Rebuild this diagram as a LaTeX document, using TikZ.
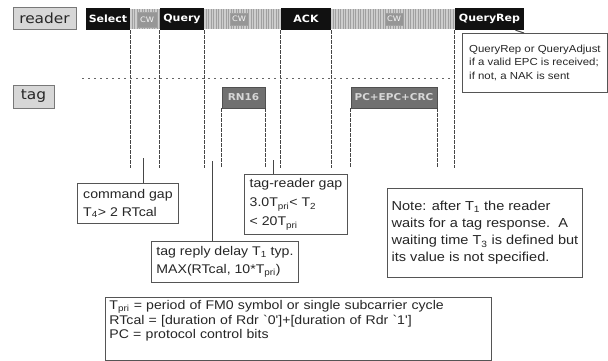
\documentclass[tikz,border=0pt]{standalone}
\usepackage{fontspec}
\setmainfont{Liberation Sans}
\newfontfamily\barfont[FakeStretch=1.1]{DejaVu Sans}
\newfontfamily\txtfont[FakeStretch=1.12]{Liberation Sans}
\definecolor{barblack}{RGB}{17,17,17}
\definecolor{tagfill}{RGB}{112,112,112}
\definecolor{tagdraw}{RGB}{80,80,80}
\definecolor{tagtext}{RGB}{215,215,215}
\definecolor{hatchbg}{RGB}{205,205,205}
\definecolor{hatchln}{RGB}{160,160,160}
\definecolor{lblfill}{RGB}{215,215,215}
\definecolor{lbldraw}{RGB}{120,120,120}
\definecolor{linec}{RGB}{70,70,70}
\definecolor{boxdraw}{RGB}{85,85,85}
\definecolor{cwfill}{RGB}{150,150,150}
\tikzset{
  rbar/.style={fill=barblack, text=white, font=\barfont\bfseries\fontsize{10}{12}\selectfont, minimum height=22pt, inner sep=0pt},
  lbl/.style={fill=lblfill, draw=lbldraw, line width=0.9pt, text=black!85, font=\barfont\fontsize{14}{16}\selectfont, inner sep=0pt},
  tagbar/.style={fill=tagfill, draw=tagdraw, line width=0.9pt, text=tagtext, font=\barfont\bfseries\fontsize{9.5}{11}\selectfont, minimum height=21pt, inner sep=0pt},
  cwbox/.style={fill=cwfill, draw=hatchln, text=white!92!gray, font=\barfont\fontsize{7.5}{8}\selectfont, inner sep=0pt},
  vdash/.style={draw=linec, line width=1pt, dash pattern=on 3.5pt off 1.5pt},
  hdot/.style={draw=gray!80!black, line width=1pt, dash pattern=on 2pt off 4pt},
  callout/.style={draw=boxdraw, line width=0.9pt, fill=white, anchor=north west, align=left, inner xsep=4pt, inner ysep=2pt, text=black!85, font=\txtfont\fontsize{12.6}{18}\selectfont},
  conn/.style={draw=linec, line width=1pt}
}
\begin{document}
\begin{tikzpicture}[x=1pt,y=-1pt]
\useasboundingbox (0,0) rectangle (608,360);
% hatched gaps on the reader line
\foreach \a/\b in {130/160,204/281,331/455}{
  \fill[hatchbg] (\a,9) rectangle (\b,29);
  \pgfmathsetmacro{\s}{\a+2}
  \pgfmathsetmacro{\t}{\a+4.5}
  \foreach \x in {\s,\t,...,\b}{\draw[hatchln, line width=0.7pt] (\x,9) -- (\x,29);}
}
% labels
\node[lbl, minimum width=63pt, minimum height=22pt] (reader) at (44.5,18) {reader};
\node[lbl, minimum width=41pt, minimum height=23pt] (tag) at (33.5,96.5) {tag};
% reader commands
\node[rbar, minimum width=44pt] (sel) at (108,19) {Select};
\node[cwbox, minimum width=20pt, minimum height=15pt] (cw1) at (147,19.5) {CW};
\node[rbar, minimum width=44pt] (query) at (182,19) {Query};
\node[cwbox, minimum width=18pt, minimum height=12pt] (cw2) at (239,19) {CW};
\node[rbar, minimum width=50pt] (ack) at (306,19) {ACK};
\node[cwbox, minimum width=18pt, minimum height=12pt] (cw3) at (394,19) {CW};
\node[rbar, minimum width=69pt] (qrep) at (489.5,19) {QueryRep};
% tag replies
\node[tagbar, minimum width=43pt] (rn) at (243.5,97.5) {RN16};
\node[tagbar, minimum width=86pt] (pc) at (394,97.5) {PC+EPC+CRC};
% bottom of the dashed lines
\coordinate (bot) at (0,168);
\draw[vdash] (sel.south east) -- (sel.south east |- bot);
\draw[vdash] (query.south west) -- (query.south west |- bot);
\draw[vdash] (query.south east) -- (query.south east |- bot);
\draw[vdash] (ack.south west) -- (ack.south west |- bot);
\draw[vdash] (ack.south east) -- (ack.south east |- bot);
\draw[vdash] (qrep.south west) -- (qrep.south west |- bot);
\draw[vdash] (rn.south west) -- (rn.south west |- bot);
\draw[vdash] (rn.south east) -- (rn.south east |- bot);
\draw[vdash] (pc.south west) -- (pc.south west |- bot);
\draw[vdash] (pc.south east) -- (pc.south east |- bot);
% horizontal dotted line
\coordinate (hl) at (82,78);
\draw[hdot] (hl) -- (hl -| qrep.south west);
% callouts
\node[callout, minimum width=145pt, minimum height=59pt, font=\txtfont\fontsize{10.2}{13.5}\selectfont] (qrc) at (462,33) {QueryRep or QueryAdjust\\if a valid EPC is received;\\if not, a NAK is sent};
\draw[conn] ([xshift=26pt]qrep.south) -- ([xshift=62pt]qrc.north west);
\node[callout, minimum width=101pt, minimum height=40pt] (cg) at (77,183) {command gap\\T\textsubscript{4}> 2 RTcal};
\node[callout, minimum width=103pt, minimum height=60pt, font=\txtfont\fontsize{12.6}{19}\selectfont] (trg) at (244,174) {tag-reader gap\\3.0T\textsubscript{pri}< T\textsubscript{2}\\< 20T\textsubscript{pri}};
\node[callout, minimum width=147pt, minimum height=41pt] (trd) at (151,241) {tag reply delay T\textsubscript{1} typ.\\MAX(RTcal, 10*T\textsubscript{pri})};
\node[callout, minimum width=195pt, minimum height=89pt, font=\txtfont\fontsize{13}{17}\selectfont] (note) at (387,188) {Note: after T\textsubscript{1} the reader\\waits for a tag response.\ \ A\\waiting time T\textsubscript{3} is defined but\\its value is not specified.};
\node[callout, text width=378pt, minimum height=62pt, inner ysep=3pt, font=\txtfont\fontsize{12.6}{14.5}\selectfont, anchor=north west] (defs) at (105,297) {T\textsubscript{pri} = period of FM0 symbol or single subcarrier cycle\\RTcal = [duration of Rdr `0']+[duration of Rdr `1']\\PC = protocol control bits\\[4pt]\mbox{}};
% connectors
\coordinate (c1) at (143,158);
\coordinate (c2) at (212,161);
\coordinate (c3) at (273,160);
\draw[conn] (c1 |- cg.north) -- (c1);
\draw[conn] (c2 |- trd.north) -- (c2);
\draw[conn] (c3 |- trg.north) -- (c3);
\end{tikzpicture}
\end{document}
